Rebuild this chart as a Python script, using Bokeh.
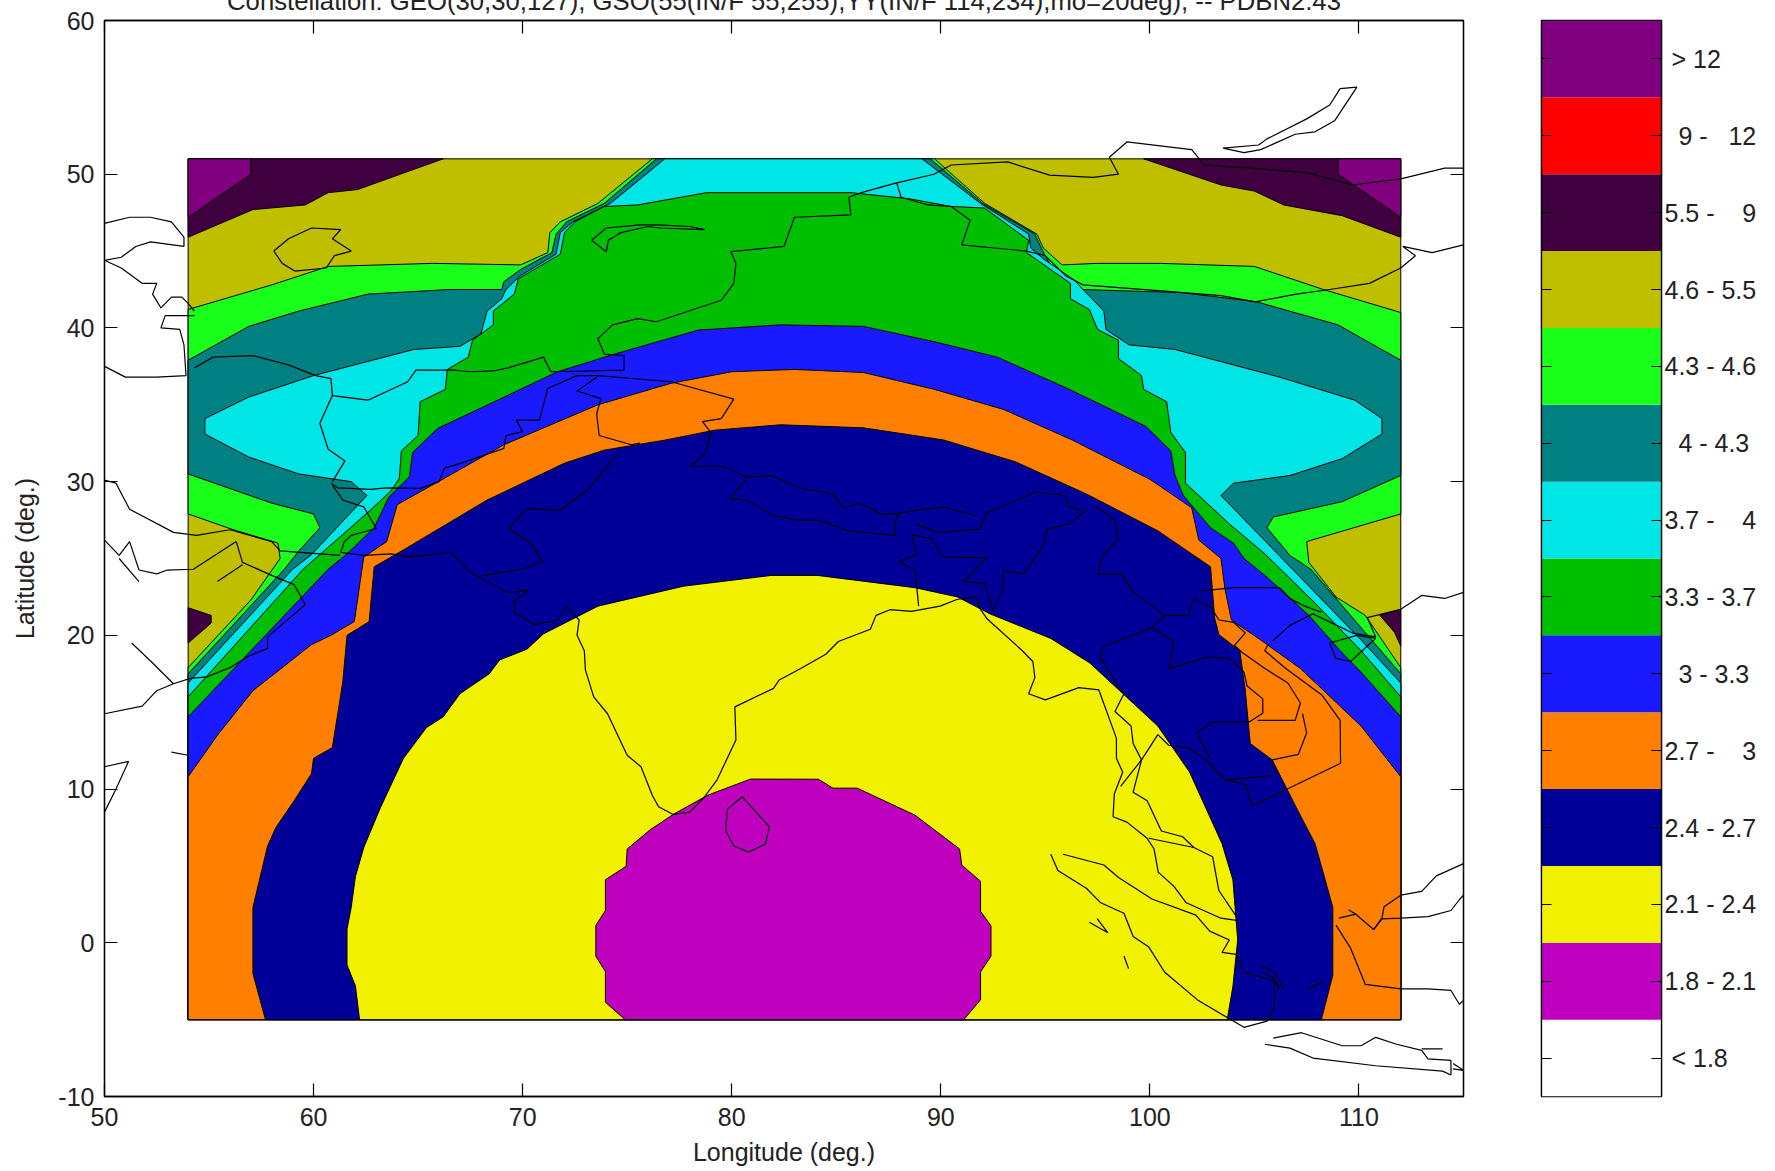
from bokeh.plotting import figure
from bokeh.layouts import row
from bokeh.models import LinearAxis, FixedTicker, Range1d, Title
from bokeh.embed import file_html
from bokeh.resources import INLINE

FONT = "Liberation Sans"
TITLE = "Constellation: GEO(30,30,127), GSO(55(IN/F 55,255),YY(IN/F 114,234),mo=20deg), -- PDBN2.43"
XLABEL = "Longitude (deg.)"
YLABEL = "Latitude (deg.)"
X_TICKS = [50, 60, 70, 80, 90, 100, 110]
Y_TICKS = [-10, 0, 10, 20, 30, 40, 50, 60]

BAND_LABELS = ["\u00a0< 1.8", "1.8 - 2.1", "2.1 - 2.4", "2.4 - 2.7", "2.7 -\u00a0\u00a0\u00a0\u00a03",
               "\u00a0\u00a03 - 3.3", "3.3 - 3.7", "3.7 -\u00a0\u00a0\u00a0\u00a04", "\u00a0\u00a04 - 4.3",
               "4.3 - 4.6", "4.6 - 5.5", "5.5 -\u00a0\u00a0\u00a0\u00a09", "\u00a0\u00a09 -\u00a0\u00a0\u00a012", "\u00a0> 12"]
BAND_COLORS = ["#ffffff", "#bf00bf", "#f2f200", "#000099", "#ff8000", "#1a1aff", "#00bf00", "#00e6e6",
               "#008080", "#19ff19", "#bfbf00", "#400040", "#ff0000", "#800080"]
OLIVE, DARK, PURPLE, LIME, TEAL, CYAN, GREEN, BLUE, ORANGE, NAVY, YELLOW, MAGENTA = (
    "#bfbf00", "#400040", "#800080", "#19ff19", "#008080", "#00e6e6",
    "#00bf00", "#1a1aff", "#ff8000", "#000099", "#f2f200", "#bf00bf")

# ---- contour regions (lon, lat) ----
olive_lon = [54, 112, 112, 54]
olive_lat = [51, 51, -5, -5]

dark_ul_lon = [54, 54, 57.1, 59.6, 60.7, 62.1, 66.2]
dark_ul_lat = [51, 45.9, 47.7, 48, 48.8, 49, 51]
dark_ur_lon = [99.7, 103.4, 105, 106.4, 109.2, 112, 112]
dark_ur_lat = [51, 49.3, 48.9, 48, 47.3, 45.9, 51]
dark_ll_lon = [54, 55.1, 55.1, 54]
dark_ll_lat = [21.8, 21.3, 20.8, 19.5]
dark_lr_lon = [112, 111, 111.7, 112]
dark_lr_lat = [21.7, 21.3, 20.2, 19.3]
purple_ul_lon = [54, 54, 57, 57]
purple_ul_lat = [51, 47.2, 50, 51]
purple_ur_lon = [109, 109, 112, 112]
purple_ur_lat = [51, 50, 47.2, 51]

lime_lon = [54, 57, 58.4, 58.3, 56.1, 54, 54, 58, 60.7, 65.7, 69.9, 71.2, 71.3, 71.8, 73.6, 76.2,
            89.7, 92.1, 94.6, 94.9, 95.8, 97.5, 100.5, 105, 108.3, 112, 112, 107.5, 107.6, 108.9, 110.3, 112, 112, 54]
lime_lat = [17.9, 22.3, 25, 26, 26.9, 27.9, 41.2, 42.8, 44, 44.2, 44.1, 44.9, 46.2, 46.9, 48.1, 51,
            51, 48.1, 46.1, 45.2, 44.1, 44.2, 44.2, 44, 42.5, 41, 27.9, 26.1, 24.75, 22.5, 21.3, 17.9, -5, -5]

teal_lon = [54, 58.6, 59.3, 60.3, 60, 58, 54, 54, 56.9, 59.3, 62.6, 66.5, 69, 69.1, 69.9, 71.4, 71.6, 72.1, 73.9, 76.4,
            89.5, 92, 94.5, 94.8, 95.2, 96.7, 101.5, 105.1, 109, 112, 112, 109.2, 105.9, 105.6, 106.7, 107.7, 112, 112, 54]
teal_lat = [17.5, 24.3, 25.5, 27, 27.9, 28.6, 30.5, 37.9, 40.1, 41.1, 42.2, 42.5, 42.5, 43, 43.8, 44.9, 46.1, 46.9, 48.1, 51,
            51, 48.1, 46.1, 45.2, 44.2, 42.5, 42.3, 41.7, 40.2, 37.9, 30.4, 28.7, 27.7, 27, 25.2, 24.3, 17.5, -5, -5]

cyan_lon = [54, 59, 59.9, 62.55, 61.8, 59.3, 56.9, 54.8, 54.8, 56.9, 60, 64.8, 67, 68, 68.3, 69, 69.2, 69.9, 71.6, 71.8, 72.4, 74.2, 76.8,
            89.1, 91.9, 94.2, 94.3, 94.9, 96.4, 96.8, 97.8, 97.9, 99, 101.2, 106.2, 109.8, 111.1, 111.1, 109.2, 106.7, 104, 103.4, 110.1, 112, 112, 54]
cyan_lat = [16.9, 24.3, 25.25, 29.1, 30, 30.5, 31.6, 33.1, 34.1, 35.5, 36.9, 38.6, 38.8, 39.6, 41.1, 41.9, 42.5, 43.4, 44.8, 46.2, 46.9, 48.1, 51,
            51, 48.1, 46.1, 45.2, 44.5, 43.1, 42.5, 41.1, 39.9, 38.9, 38.6, 36.8, 35.3, 34.1, 33.1, 31.5, 30.4, 29.9, 29.1, 19.7, 16.9, -5, -5]

green_lon = [54, 59.5, 62.6, 63.7, 64.1, 64.2, 65, 65.1, 66.3, 66.4, 67.4, 67.6, 68.6, 68.6, 69.6, 69.8, 71.8, 72, 72.5, 73.9, 75.5, 78.8,
             85.7, 88.5, 90.5, 92.1, 94.2, 94.1, 96.2, 96.2, 97.1, 97.5, 98.5, 98.5, 99.6, 99.7, 100.8, 101, 101.7, 101.7, 103.8, 105.5, 107.9, 110.1, 112, 112, 54]
green_lat = [16, 24.3, 28, 29.4, 30.2, 32, 33, 35.2, 36, 37.3, 38.1, 39.2, 40.2, 41.1, 42.2, 43.2, 44.8, 46.2, 46.9, 47.9, 48, 48.8,
             48.8, 48.4, 47.9, 47.8, 45.7, 44.9, 42.9, 41.9, 41.2, 39.9, 39.2, 38, 36.9, 36, 35.2, 33.2, 31.9, 29.9, 27.25, 25.3, 22.1, 19, 16, -5, -5]

blue_lon = [54, 60.7, 61.6, 62.9, 63.6, 64.58, 64.74, 65.93, 68.8, 71.67, 74.4, 78.4, 82.35, 86.3, 89.7, 92.7, 96, 99.8, 101, 101.2, 101.6, 102.9, 104, 104.5, 105.5, 107.6, 109.1, 110.1, 112, 112, 54]
blue_lat = [14.7, 24.3, 25.3, 27, 29, 30.3, 31.9, 33.46, 35.3, 37.15, 38.3, 39.86, 40.2, 40.1, 39.1, 38.1, 36.1, 33.6, 32, 30.4, 29.1, 27, 26, 25, 23.9, 21.3, 19, 17.6, 14.7, -5, -5]

orange_lon = [54, 55.4, 57.1, 59.9, 60.83, 61.95, 62.4, 63.5, 64, 66.1, 69.1, 73.6, 77.1, 80, 83, 86.3, 89.7, 93, 96.3, 100, 102, 102.34, 103.4, 103.6, 103.9, 105.3, 107.2, 110.1, 112, 112, 54]
orange_lat = [10.8, 13.5, 16.4, 19.4, 20, 20.9, 25.1, 26.1, 28.5, 30.1, 32.4, 35, 36.4, 37.15, 37.3, 37.1, 36, 34.7, 32.7, 30.15, 28.3, 26.2, 25, 22.95, 21, 19.7, 17.84, 14.1, 10.8, -5, -5]

navy_lon = [57.7, 57.1, 57.1, 57.8, 58.2, 59.1, 59.9, 60, 60.9, 61.4, 61.6, 62.66, 62.9, 64.1, 68.3, 72, 73.9, 76.8, 79.2, 82.35, 86.3, 90.13, 93.55, 96.96, 100.38, 102.9, 103.1, 103.3, 104.3, 104.56, 104.8, 105.85, 107, 107.9, 108.75, 108.75, 108.2]
navy_lat = [-5, -2, 2.3, 6.3, 7.5, 9.3, 11, 12, 12.7, 17, 20, 20.9, 24.46, 25.4, 28.8, 31.2, 32.05, 32.7, 33.35, 33.7, 33.5, 32.71, 31.3, 29.2, 26.8, 24.46, 21.1, 20.05, 19, 16.45, 12.96, 11.9, 8.8, 6.45, 2.3, -2.1, -5]

yellow_lon = [62.2, 62, 61.6, 61.6, 61.8, 62, 62.4, 63.2, 64.3, 65.4, 66.2, 67, 68.4, 68.9, 70.2, 71, 73.6, 77.7, 81.9, 84.1, 88.77, 90.8, 92.35, 95.26, 97.13, 100.38, 101.9, 103.45, 103.97, 104.2, 103.97, 103.7]
yellow_lat = [-5, -2.8, -1.45, 0.9, 2.3, 4.3, 6.2, 8.8, 12, 14, 14.7, 16.2, 17.5, 18.4, 19.1, 20.1, 21.9, 23.2, 23.9, 23.9, 23.1, 22.5, 21.4, 19.8, 18.2, 14.1, 11.1, 6.45, 4.1, 0.18, -2.85, -5]

magenta_lon = [74.9, 73.96, 73.96, 73.5, 73.5, 73.96, 73.96, 74.95, 75, 76.1, 77.2, 78.85, 80.9, 84.15, 84.84, 86, 88.77, 90.9, 91, 91.9, 91.9, 92.4, 92.4, 91.9, 91.9, 91.1]
magenta_lat = [-5, -3.87, -1.87, -0.87, 1.12, 2.1, 4.1, 4.98, 6.1, 7.35, 8.35, 9.6, 10.65, 10.64, 10.06, 10.06, 8.3, 6.1, 5.06, 4, 2.04, 1.1, -0.86, -1.9, -3.7, -5]

REGIONS = [
    (olive_lon, olive_lat, OLIVE), (dark_ul_lon, dark_ul_lat, DARK), (dark_ur_lon, dark_ur_lat, DARK),
    (dark_ll_lon, dark_ll_lat, DARK), (dark_lr_lon, dark_lr_lat, DARK),
    (purple_ul_lon, purple_ul_lat, PURPLE), (purple_ur_lon, purple_ur_lat, PURPLE),
    (lime_lon, lime_lat, LIME), (teal_lon, teal_lat, TEAL), (cyan_lon, cyan_lat, CYAN),
    (green_lon, green_lat, GREEN), (blue_lon, blue_lat, BLUE), (orange_lon, orange_lat, ORANGE),
    (navy_lon, navy_lat, NAVY), (yellow_lon, yellow_lat, YELLOW), (magenta_lon, magenta_lat, MAGENTA),
]

# ---- coast and border lines (lon, lat pairs) ----
caspian_n = [(50, 46.8), (51.2, 47.2), (52.2, 47.2), (53.2, 46.9), (53.8, 45.9), (53.8, 45.3), (52.2, 45.6), (51.5, 45.3), (50.8, 44.6), (50, 44.4)]
caspian_e = [(50, 44.4), (50.8, 43.9), (51.8, 42.9), (52.5, 42.9), (52.3, 42.2), (52.7, 41.3), (53.2, 42), (53.7, 42), (54, 41.6), (54.3, 41.1)]
caspian_s = [(54.3, 40.8), (52.9, 40.8), (52.7, 40), (53.6, 39.9), (53.8, 38.9), (53.9, 36.9), (52.5, 36.8), (51, 36.8), (50, 37.5)]
aral = [(58.1, 45), (58.8, 45.8), (59.9, 46.5), (61.3, 46.4), (60.9, 45.8), (61.8, 45), (61, 44.7), (60.6, 43.9), (59.1, 43.7), (58.5, 44.2), (58.1, 45)]
balkhash = [(73.3, 45.7), (74, 46.5), (75.6, 46.7), (76.5, 46.7), (78, 46.6), (78.7, 46.4), (76.6, 46.5), (76, 46.6), (74.7, 46.2), (74.1, 45.7), (74, 44.96), (73.3, 45.7)]
iran_north = [(54.3, 37.4), (55.2, 38.1), (57.1, 38.2), (58.8, 37.6), (60.1, 36.9), (60.83, 36.7), (60.9, 35.6), (62.6, 35.3), (64.5, 36.5), (64.9, 37.25),
              (66.7, 37.25), (67.5, 37.15), (68.6, 37.2), (69.3, 37.4), (71, 38.1), (71.35, 37.15), (74.85, 37.25), (74.85, 38.2), (73.9, 38.3), (73.6, 39.3), (74.3, 40.2), (75.5, 40.6),
              (76.4, 40.4), (79.5, 41.8), (80.1, 42.9), (80.2, 44.2), (79.96, 44.96), (82.5, 45.3), (83, 47.2), (85.7, 47.35), (85.6, 48.5), (86.2, 48.8), (87.8, 49.4), (89.67, 50),
              (90.5, 50.6), (93.2, 50.8), (95.2, 49.94), (97.3, 49.8), (98.5, 50), (98.06, 51.1), (98.9, 52.1), (102, 51.6), (102.6, 50.6), (104.8, 50.4), (107.5, 50.1), (109.7, 49.3), (112, 49.7), (114.1, 50.4), (115, 50.4)]
mongolia_s = [(87.9, 49.4), (88.1, 48.5), (89.4, 48), (90.5, 47.9), (91.4, 47), (91, 45.4), (94.1, 45), (95, 44.7), (95.97, 43.4), (96.8, 42.8), (100.7, 42.4), (103.4, 42.1),
              (105.05, 41.7), (107, 42.2), (108.6, 42.5), (110.5, 42.9), (112, 43.9), (112.7, 44.7), (112.1, 45.3), (113.5, 44.9), (115, 45.4)]
baikal = [(109.9, 55.67), (109.1, 55.57), (108.6, 54.5), (107.5, 53.6), (105.6, 52.3), (105.2, 51.9), (103.5, 51.7), (104.5, 51.4), (105.3, 51.6), (106.95, 52.6), (107.9, 52.76), (108.85, 53.5), (109.9, 55.67)]
iran_east = [(60.9, 35.6), (60.3, 33.8), (60.7, 32.1), (61.5, 31.35), (60.9, 30)]
pak_north = [(60.83, 29.9), (61.15, 29.6), (62.74, 29.5), (63.46, 29.6), (65.1, 29.56), (66, 30), (66.25, 30.86), (67.05, 31.2), (69.1, 32.16), (69.2, 33), (70, 33.25), (69.7, 34), (70.8, 34),
             (71.2, 36.06), (72.6, 36.9), (73.6, 36.9), (77.1, 36.5), (80.1, 35.37), (79.5, 34.1), (78.6, 33.9), (79, 33.2), (78.76, 31.85), (78, 31), (79.6, 31), (80.76, 30.3), (81.9, 30.4),
             (83.3, 29.57), (84.84, 29.2), (85.35, 28.3), (86.1, 28.6), (87.14, 27.9), (88, 27.95), (89.2, 28.2), (90.13, 28.34), (91.67, 27.8)]
kashmir = [(73.66, 36.9), (72.6, 35.9), (73.74, 35.4), (73.54, 34.4), (73.66, 33), (75.2, 32.4), (75.6, 32.5)]
pak_hook = [(61.3, 25.4), (61.47, 26.1), (61.8, 26.5), (63, 26.95), (62.4, 28.36), (61.4, 28.8), (60.9, 29.77)]
nepal_s = [(80.76, 30.3), (79.9, 28.9), (80.76, 28.8), (81.95, 27.8), (83.3, 27.48), (84.15, 27.48), (85.6, 26.8), (87.8, 26.5), (87.8, 27.37), (88, 27.95)]
ne_india = [(88.85, 27.25), (89.8, 26.7), (91.84, 26.9), (92.2, 27.95), (94.57, 29.34), (95.94, 29.1), (96.1, 28.4), (96.9, 28.06), (96.1, 27.25), (95.1, 26.9), (94.9, 25.85), (93.97, 24), (93, 24.23),
            (92.95, 22.95), (92.5, 21.56), (92.1, 23.4), (91.07, 23.5), (92.2, 25.04), (90.13, 25.1), (89.53, 26.3), (88.6, 26.55), (88.85, 25.27), (88, 24.8), (88.77, 24.23), (88.94, 21.9)]
india_border = [(74.54, 31.8), (73.1, 29.45), (71.8, 28.15), (70.2, 28.25), (69.3, 26.95), (70.4, 26), (70.95, 24.8), (70.1, 24.35), (68.1, 23.9)]
arabian_coast = [(61.3, 25.4), (62.4, 25.2), (63.7, 25.3), (64.66, 25.1), (66.57, 25.4), (67.5, 24.1), (69.3, 22.77), (70.3, 22.94), (69.6, 22.2), (69.6, 21.5), (70.6, 20.7), (71.67, 21), (72.07, 21.9),
                 (72.7, 21), (72.6, 20), (72.95, 19), (73, 17.75), (73.4, 16), (74.06, 14.9), (75, 12.2), (75.66, 11.45), (76.2, 9.6), (76.5, 8.85), (77.2, 8.35), (78, 8.5), (78.7, 9.5), (79.3, 10.6),
                 (80.2, 13.2), (80.15, 15.35), (82, 16.55), (82.27, 17.1), (83.3, 17.84), (84.5, 18.77), (85.1, 19.6), (86.63, 20.4), (86.9, 21.3), (87.57, 21.67), (88.6, 21.56), (89.96, 21.9), (90.8, 22.35),
                 (91.75, 22.5), (91.84, 21.8), (92.2, 21.1), (93.9, 19), (94.4, 18.3), (94.5, 17.25), (94.2, 16.2), (95, 15.8), (96.6, 16.6), (97.56, 16.45), (98.4, 13.3), (98.4, 12), (98.7, 11.1), (98.3, 9.7),
                 (98.24, 8.2), (98.9, 7.85), (99.87, 6.8), (100.2, 6.1), (100.4, 4.6), (101.15, 3.67), (101.74, 2.6), (103.4, 1.6), (104.14, 1.46)]
thai_west = [(98.76, 16.2), (98.33, 15.05), (99.1, 14.1), (99.2, 12.96), (99.6, 11.9), (99.2, 9.8), (99.87, 9.24), (100.55, 7.27), (101.57, 6.9), (102.1, 6.2)]
thai_gulf = [(98.6, 10.17), (99.6, 11.9), (100.38, 13.54), (100.9, 12.85), (101.83, 12.68), (102.6, 12), (103.6, 10.6), (105.85, 10.87)]
malay_east = [(99.95, 6.8), (102.1, 6.2), (103, 5.6), (103.3, 3.4), (104.14, 1.7)]
laos_thai = [(102.86, 12), (102.26, 13.66), (102.94, 14.35), (104.73, 14.35), (105.4, 14.93), (105.4, 15.87), (104.65, 16.7), (104.5, 17.6), (103.8, 18.5), (102.77, 18.6), (100.9, 17.84), (101.15, 19.6), (100.1, 20.5),
             (97.73, 19.24), (97.65, 18.5), (98.76, 16.2)]
china_s_border = [(97.4, 28.4), (98.33, 27.48), (98.5, 26.3), (97.8, 25.27), (97.48, 24), (98.67, 24), (99.2, 22.83), (100.7, 21.3), (101.83, 21.3), (102.1, 22.37), (102.94, 21.8), (103.3, 21), (104, 20.85), (104.56, 20.16),
                  (104.05, 19.35), (104.4, 18.9), (105.5, 17.84), (106.6, 16.9), (107.2, 15.6), (106.95, 14.47), (105.16, 14.47)]
myanmar_link = [(100.7, 21.3), (100.1, 20.5)]
cambodia = [(107.3, 14.9), (107.5, 13.66), (107.1, 12.26), (105.85, 11.9), (106, 10.99)]
viet_coast = [(105.67, 19.47), (105.5, 19), (106.5, 17.84), (108.24, 16.1), (109.1, 14.47), (109.12, 11.68), (104.9, 8.9), (104.56, 10.3), (103.7, 10.6)]
china_viet = [(102.5, 22.9), (104, 23.1), (106.2, 23.1), (106.7, 22.4), (107.4, 21.9), (108.2, 21.5)]
china_coast = [(105.88, 19.65), (106.7, 20.65), (107.8, 21.4), (109.7, 20.15), (110.8, 19.9), (110.4, 21.15), (112, 21.7), (113, 22.6), (114.1, 22.4), (115, 22.8)]
hainan = [(108.6, 19.5), (108.9, 18.5), (109.6, 18.3), (110.8, 19.8), (109.9, 20), (108.6, 19.5)]
sumatra_w = [(95.26, 5.76), (95.6, 4.7), (96.96, 3.55), (97.65, 2.6), (98.76, 1.92), (99.2, 0.41), (99.95, -0.28), (100.7, -1.9), (102.26, -3.7), (103.74, -4.9), (104.5, -5.5), (105.6, -5.1), (105.96, -4.1), (105.96, -2.5), (104.5, -1.9)]
sumatra_e = [(95.85, 5.76), (97.8, 5.06), (98.5, 4.25), (100.1, 2.85), (102.2, 1.8), (102.86, 0.76), (103.8, 0.18), (103.45, -0.63), (104.14, -0.75), (104.5, -1.9)]
bangka = [(105.3, -1.5), (105.96, -1.9), (106.4, -3)]
bangka2 = [(105.4, -1.9), (105.9, -2.3), (106.2, -3)]
belitung = [(107.6, -3), (108.3, -2.5)]
simeulue = [(97.1, 1.34), (97.99, 0.65), (97.48, 1.57)]
nias = [(98.76, -0.86), (98.98, -1.68), (98.8, -1)]
borneo_a = [(109.04, 1.6), (109.85, 1.86), (110.7, 0.86), (111.1, 1.6), (111.2, 2.35), (112, 3.1), (113, 3.35), (113.7, 4.35), (115, 5.15)]
borneo_a2 = [(109.5, 2.15), (109.85, 1.86)]
borneo_b = [(110.7, 0.86), (111.1, 1.55), (112, 1.6), (113.3, 1.7), (114.4, 2.1), (114.8, 2.8), (115, 3.1)]
borneo_c = [(108.9, 1.15), (109.6, -0.35), (110.3, -2.7), (112, -3), (113.3, -3), (114.4, -3.1), (114.8, -4), (115, -3.75)]
java_n = [(105.9, -6.2), (107.25, -5.85), (109.2, -6.7), (110.1, -6.7), (110.8, -6.15), (111.8, -6.6), (113, -7), (113.3, -7.55), (114.4, -7.65), (114.4, -8.6)]
java_s = [(105.5, -6.6), (106.7, -6.85), (107.8, -7.5), (110.8, -8), (114, -8.35), (114.4, -8.6)]
madura = [(113, -6.9), (114, -6.9)]
bali = [(114.5, -7.85), (115, -8.3), (114.5, -8.2)]
sri_lanka = [(80.5, 9.5), (79.8, 8.7), (79.7, 7.3), (80.1, 6.3), (80.8, 5.9), (81.6, 6.4), (81.8, 7.55), (80.5, 9.5)]
gulf_north = [(50, 30.1), (50.55, 29.9), (51.2, 28.2), (53.3, 26.7), (54.4, 26.5), (56, 26.87), (58, 26.1), (58.4, 25.5), (61.26, 25.2)]
arabia_a = [(50, 26.2), (50.7, 25.2), (51.2, 26.1), (51.65, 24.25), (52.5, 24), (53, 24.25), (54.25, 24.3), (56.3, 26.1), (56.6, 24.75), (58, 23.9), (59.07, 23.3), (59.6, 22), (57.8, 19.9), (57.8, 19.15),
            (56.9, 18.66), (56, 17.9), (54.9, 17.3), (54.1, 17.2), (53.3, 16.85), (52.5, 16.4), (51.8, 15.4), (50, 14.9)]
arabia_b = [(50.7, 25), (51.65, 23.5)]
arabia_c = [(51.3, 19.5), (52.3, 18.2), (53.3, 16.85)]
arabia_d = [(55.4, 23.5), (56.6, 24.6)]
socotra = [(53.2, 12.4), (54, 12.2)]
somalia = [(50, 11.45), (51.15, 11.8), (50.55, 10), (50, 8.5)]

COAST_LINES = [caspian_n, caspian_e, caspian_s, aral, balkhash, iran_north, mongolia_s, baikal, iran_east, pak_north, kashmir, pak_hook, nepal_s,
               ne_india, india_border, arabian_coast, thai_west, thai_gulf, malay_east, laos_thai, china_s_border, myanmar_link, cambodia, viet_coast,
               china_viet, china_coast, hainan, sumatra_w, sumatra_e, bangka, bangka2, belitung, simeulue, nias, borneo_a, borneo_a2, borneo_b, borneo_c,
               java_n, java_s, madura, bali, sri_lanka, gulf_north, arabia_a, arabia_b, arabia_c, arabia_d, socotra, somalia]


def blank(ticks):
    return {t: "" for t in ticks}


p = figure(frame_width=1359, frame_height=1076, output_backend="svg", toolbar_location=None,
           x_range=Range1d(50, 115), y_range=Range1d(-10, 60), min_border_left=104, min_border_top=20,
           min_border_right=60, min_border_bottom=70, tools="")
p.grid.visible = False
p.outline_line_color = "black"
p.outline_line_width = 1.3
p.background_fill_color = "white"

for xs, ys, col in REGIONS:
    p.patch(xs, ys, fill_color=col, line_color="black", line_width=1)
for seg in COAST_LINES:
    p.line([a for a, _ in seg], [b for _, b in seg], line_color="black", line_width=1.2)

for ax, ticks in ((p.xaxis[0], X_TICKS), (p.yaxis[0], Y_TICKS)):
    ax.ticker = FixedTicker(ticks=ticks)
    ax.major_tick_in = 13
    ax.major_tick_out = 0
    ax.minor_tick_line_color = None
    ax.axis_line_color = "black"
    ax.axis_line_width = 1.3
    ax.major_tick_line_color = "black"
    ax.major_tick_line_width = 1.2
    ax.major_label_text_font = FONT
    ax.major_label_text_font_size = "25px"
    ax.major_label_text_color = "#222222"
    ax.axis_label_text_font = FONT
    ax.axis_label_text_font_size = "25px"
    ax.axis_label_text_font_style = "normal"
    ax.axis_label_text_color = "#222222"
p.xaxis[0].axis_label = XLABEL
p.yaxis[0].axis_label = YLABEL
p.yaxis[0].major_label_overrides = {-10: "-10"}
p.xaxis[0].major_label_standoff = 11
p.xaxis[0].axis_label_standoff = 9
p.yaxis[0].major_label_standoff = 10
p.yaxis[0].axis_label_standoff = 16

for side, ticks in (("above", X_TICKS), ("right", Y_TICKS)):
    extra = LinearAxis(ticker=FixedTicker(ticks=ticks), major_label_overrides=blank(ticks), major_tick_in=13, major_tick_out=0,
                       minor_tick_line_color=None, axis_line_color="black", axis_line_width=1.3,
                       major_tick_line_color="black", major_tick_line_width=1.2, major_label_standoff=0)
    p.add_layout(extra, side)

p.add_layout(Title(text=TITLE, text_font=FONT, text_font_size="25.7px", text_font_style="normal", text_color="#222222",
                   align="center", standoff=12), "above")

# ---- colour bar ----
band_bottom = list(range(len(BAND_COLORS)))
band_top = [b + 1 for b in band_bottom]
band_mid = [b + 0.5 for b in band_bottom]
c = figure(frame_width=120, frame_height=1076, output_backend="svg", toolbar_location=None,
           x_range=Range1d(0, 1), y_range=Range1d(0, len(BAND_COLORS)), min_border_left=18, min_border_top=20,
           min_border_right=105, min_border_bottom=70, tools="")
c.grid.visible = False
c.outline_line_color = "black"
c.outline_line_width = 1.3
c.quad(left=0, right=1, bottom=band_bottom, top=band_top, fill_color=BAND_COLORS, line_color=None)
c.xaxis.visible = False
c.yaxis[0].ticker = FixedTicker(ticks=band_mid)
c.yaxis[0].major_label_overrides = blank(band_mid)
rax = LinearAxis(ticker=FixedTicker(ticks=band_mid), major_label_overrides=dict(zip(band_mid, BAND_LABELS)),
                 major_label_text_font=FONT, major_label_text_font_size="25px", major_label_text_color="#222222",
                 major_label_standoff=3)
c.add_layout(rax, "right")
for ax in (c.yaxis[0], rax):
    ax.major_tick_in = 10
    ax.major_tick_out = 0
    ax.minor_tick_line_color = None
    ax.axis_line_color = "black"
    ax.axis_line_width = 1.3
    ax.major_tick_line_color = "black"
    ax.major_tick_line_width = 1.2

layout = row(p, c, spacing=0, margin=(-22, 0, 0, 0))
open("out.html", "w").write(file_html(layout, INLINE))
